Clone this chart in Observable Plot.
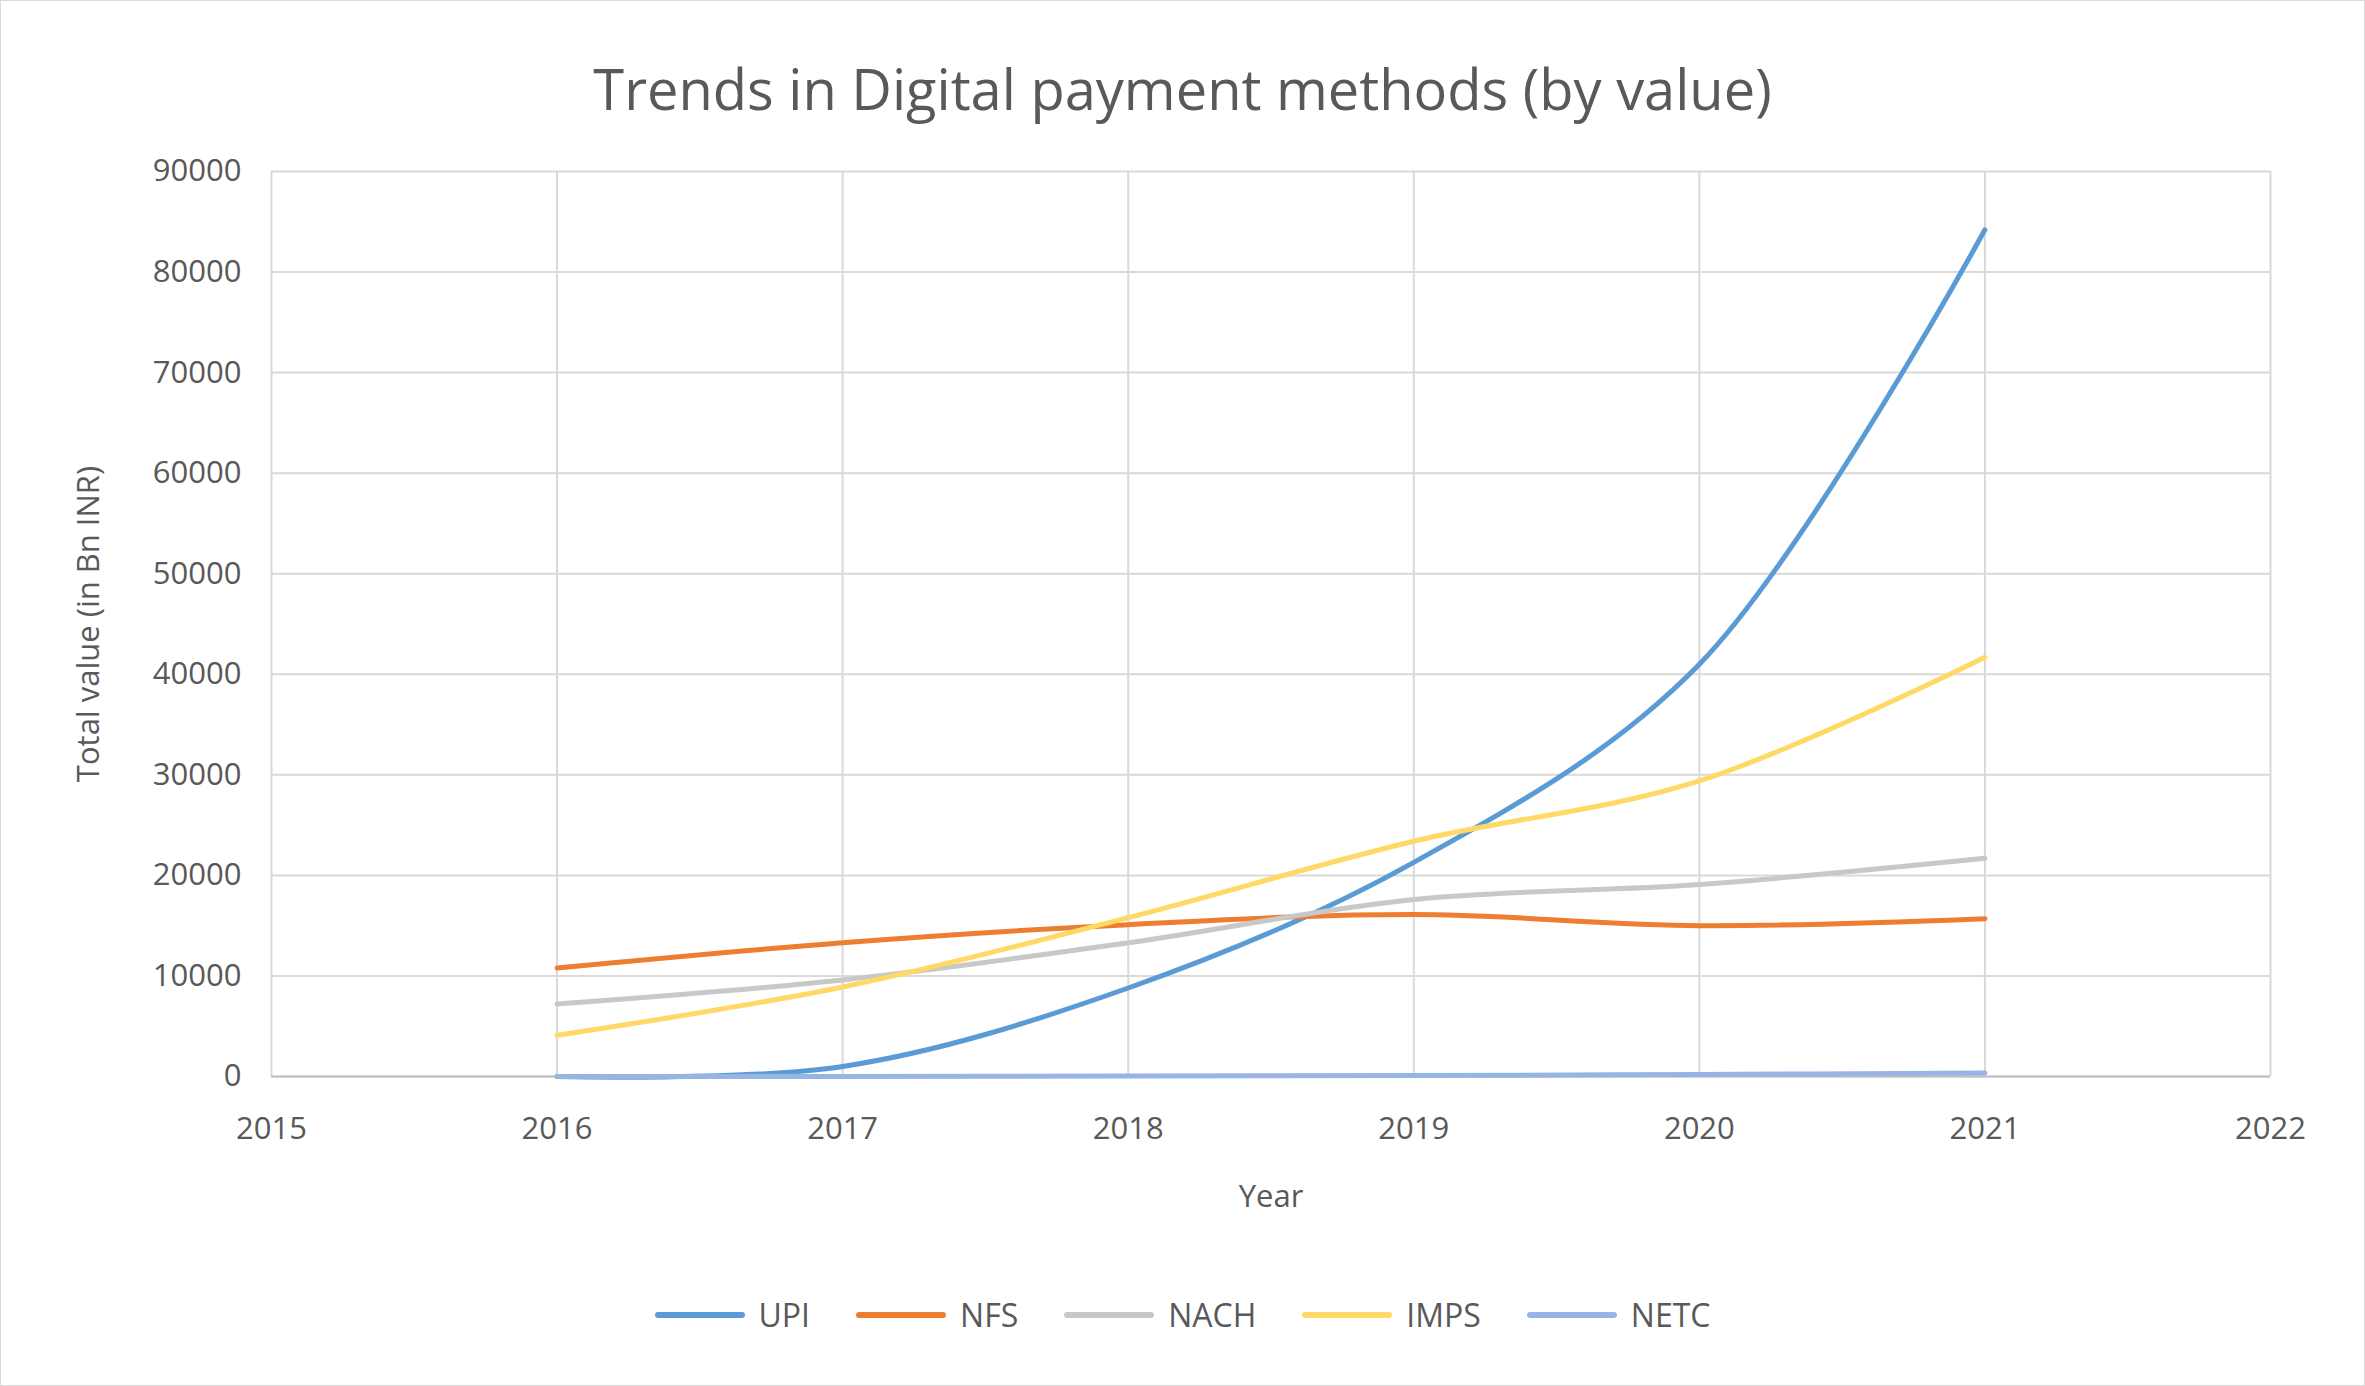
<!DOCTYPE html>
<html><head><meta charset="utf-8">
<script src="https://cdn.jsdelivr.net/npm/d3@7"></script>
<script src="https://cdn.jsdelivr.net/npm/@observablehq/plot@0.6"></script>
<style>
body{margin:0;background:#fff;font-family:"Open Sans",sans-serif;}
#wrap{width:2363px;height:1384px;border:1px solid #d9d9d9;position:relative;overflow:hidden}
#title{height:130px;line-height:174px;text-align:center;font-size:56px;color:#595959}
#legend{position:absolute;top:1292px;left:0;width:100%;display:flex;justify-content:center;gap:46px;font-size:32px;color:#595959}
.item{display:flex;align-items:center;gap:14px}
.sw{width:90px;height:6px;border-radius:3px}
</style></head><body>
<div id="wrap"><div id="title">Trends in Digital payment methods (by value)</div><div id="chart"></div><div id="legend"></div></div>
<script>
const years=[2016,2017,2018,2019,2020,2021];
const seriesNames=["UPI","NFS","NACH","IMPS","NETC"];
const colors=["#5B9BD5","#ED7D31","#C8C8C8","#FFD966","#98B4E4"];
const UPI=[0,1000,8800,21300,41000,84200];
const NFS=[10800,13300,15100,16100,15000,15700];
const NACH=[7200,9600,13300,17600,19100,21700];
const IMPS=[4100,8900,15800,23400,29400,41700];
const NETC=[0,10,50,100,200,350];
const xTicks=[2015,2016,2017,2018,2019,2020,2021,2022];
const yTicks=[0,10000,20000,30000,40000,50000,60000,70000,80000,90000];
const vals={UPI,NFS,NACH,IMPS,NETC};
const data=seriesNames.flatMap(s=>years.map((y,i)=>({s,year:y,v:vals[s][i]})));
const plot=Plot.plot({
  width:2363,height:1150,marginTop:40,marginBottom:205,marginLeft:270,marginRight:94,
  style:{fontFamily:"Open Sans",fontSize:"31px",color:"#595959"},
  x:{domain:[2015,2022],ticks:xTicks,tickFormat:d=>String(d),tickSize:0,tickPadding:40,label:"Year",labelAnchor:"center",labelArrow:"none",labelOffset:130},
  y:{domain:[0,90000],ticks:yTicks,tickFormat:d=>String(d),tickSize:0,tickPadding:30,label:"Total value (in Bn INR)",labelAnchor:"center",labelArrow:"none",labelOffset:195},
  color:{domain:seriesNames,range:colors},
  marks:[
    Plot.gridX(xTicks,{stroke:"#d9d9d9",strokeOpacity:1,strokeWidth:2}),
    Plot.gridY(yTicks,{stroke:"#d9d9d9",strokeOpacity:1,strokeWidth:2}),
    Plot.ruleY([0],{stroke:"#bfbfbf",strokeWidth:2}),
    Plot.line(data,{x:"year",y:"v",z:"s",stroke:"s",strokeWidth:5,curve:"catmull-rom"})
  ]
});
document.getElementById("chart").appendChild(plot);
const lg=document.getElementById("legend");
seriesNames.forEach((s,i)=>{const d=document.createElement("div");d.className="item";d.innerHTML=`<span class="sw" style="background:${colors[i]}"></span><span>${s}</span>`;lg.appendChild(d);});
</script></body></html>
